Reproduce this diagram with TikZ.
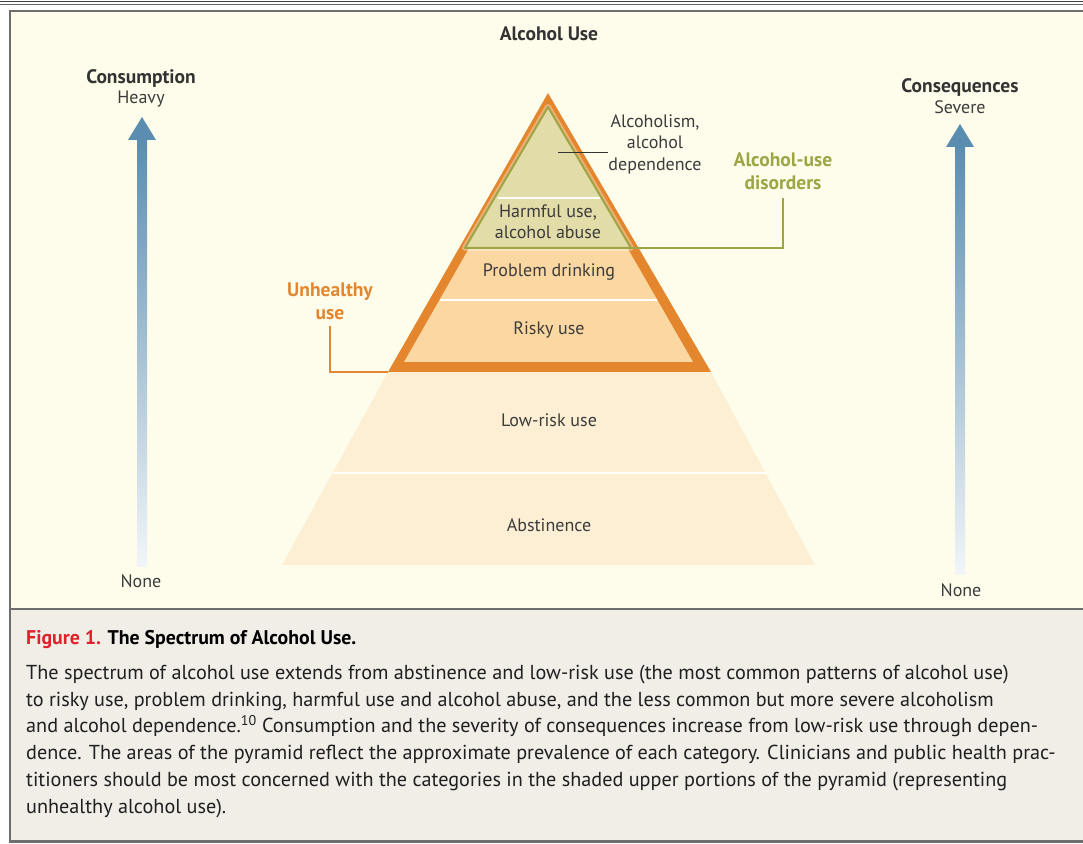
\documentclass[tikz,border=0pt]{standalone}
\usepackage{fontspec}
\setmainfont{PT Sans}
\usetikzlibrary{positioning}
\definecolor{panelbg}{HTML}{FEFDEC}
\definecolor{capbg}{HTML}{F1EDE7}
\definecolor{framegray}{HTML}{6E6E6E}
\definecolor{inkgray}{HTML}{3C3C3C}
\definecolor{orangeline}{HTML}{E4862E}
\definecolor{orangefill}{HTML}{FBD7A1}
\definecolor{palefill}{HTML}{FDEFD4}
\definecolor{khaki}{HTML}{E2DCA8}
\definecolor{olive}{HTML}{9DA544}
\definecolor{steel}{HTML}{5B8DB0}
\definecolor{figred}{HTML}{E0202A}
\tikzset{
  lbl/.style={text=inkgray, font=\fontsize{18}{21.5}\selectfont, align=center, inner sep=0pt},
  hdlbl/.style={lbl, font=\fontsize{19.5}{23}\selectfont\bfseries, text=black!80},
  tierline/.style={color=white, line width=2.2pt},
}

\begin{document}
\begin{tikzpicture}[scale=1.000000,x=1pt,y=1pt]
\useasboundingbox (0.000000,0.000000) rectangle (1083.000000,843.000000);
\filldraw[color=white] (0.000000,0.000000) rectangle (1083.000000,843.000000);
% Drawing frames
\draw[line width=1.5pt,color=black!75] (0.000000,841.500000) -- (1083.000000,841.500000);
\draw[line width=0.8pt,color=black!60] (0.000000,838.500000) -- (1083.000000,838.500000);
\filldraw[fill=panelbg,draw=framegray,line width=2.5pt] (10.000000,234.000000) rectangle (1095.000000,832.000000);
\filldraw[fill=capbg,draw=framegray,line width=2.5pt] (10.000000,1.500000) rectangle (1095.000000,234.000000);
% Done with frames; drawing arrows
% Arrow 1: consumption
\shade[top color=steel,bottom color=steel!8] (137.000000,276.000000) rectangle (147.000000,704.000000);
\fill[color=steel] (128.000000,703.000000) -- (156.000000,703.000000) -- (142.000000,726.000000) -- cycle;
% Arrow 2: consequences
\shade[top color=steel,bottom color=steel!8] (955.000000,268.000000) rectangle (965.000000,697.000000);
\fill[color=steel] (946.000000,696.000000) -- (974.000000,696.000000) -- (960.000000,719.000000) -- cycle;
% Done with arrows; drawing pyramid
% Base: low-risk use, abstinence
\fill[color=palefill] (388.000000,471.000000) -- (711.000000,471.000000) -- (815.000000,278.000000) -- (282.000000,278.000000) -- cycle;
\draw[tierline] (332.500000,370.000000) -- (765.500000,370.000000);
% Top: unhealthy use
\fill[color=orangeline] (548.000000,750.000000) -- (711.000000,471.000000) -- (388.000000,471.000000) -- cycle;
\fill[color=orangefill] (548.000000,733.000000) -- (693.000000,481.000000) -- (404.000000,481.000000) -- cycle;
\draw[tierline] (440.000000,543.000000) -- (657.000000,543.000000);
% Tip: alcohol-use disorders
\draw[color=white,opacity=0.35,line width=6pt,line join=round] (548.000000,736.000000) -- (631.000000,595.000000) -- (465.000000,595.000000) -- cycle;
\filldraw[fill=khaki,draw=olive,line width=2pt,line join=round] (548.000000,736.000000) -- (631.000000,595.000000) -- (465.000000,595.000000) -- cycle;
\draw[tierline] (497.500000,645.000000) -- (599.500000,645.000000);
\coordinate (audR) at (631.000000,595.000000);
\coordinate (unhL) at (388.000000,471.000000);
\coordinate (ldr) at (558.000000,691.000000);
% Done with pyramid; drawing labels
\node[hdlbl] (title) at (549.000000,809.000000) {Alcohol Use};
\node[hdlbl] (cons) at (141.000000,765.000000) {Consumption};
\node[lbl] (heavy) at (141.000000,744.000000) {Heavy};
\node[lbl] (noneL) at (141.000000,262.000000) {None};
\node[hdlbl] (conseq) at (960.000000,756.000000) {Consequences};
\node[lbl] (severe) at (960.000000,736.000000) {Severe};
\node[lbl] (noneR) at (961.000000,253.000000) {None};
\node[lbl] (alcdep) at (655.000000,699.000000) {Alcoholism,\\alcohol\\dependence};
\node[lbl] (harm) at (548.000000,621.000000) {Harmful use,\\alcohol abuse};
\node[lbl] (probl) at (549.000000,571.000000) {Problem drinking};
\node[lbl] (risky) at (549.000000,513.000000) {Risky use};
\node[lbl] (lowrisk) at (549.000000,423.000000) {Low-risk use};
\node[lbl] (abst) at (549.000000,318.000000) {Abstinence};
\node[hdlbl,text=olive] (aud) at (783.000000,672.000000) {Alcohol-use\\disorders};
\node[hdlbl,text=orangeline] (unh) at (330.000000,542.000000) {Unhealthy\\use};
% Done with labels; drawing leaders
\draw[color=black!80,line width=0.7pt] (ldr) -- (ldr -| alcdep.west);
\draw[color=olive,line width=2pt] (aud.south) ++(0,-8) |- (audR);
\draw[color=orangeline,line width=2pt] (unh.south) ++(0,-6) |- (unhL);
% Done with leaders; drawing caption
\node[anchor=west,inner sep=0pt,font=\fontsize{19.8}{23}\selectfont\bfseries] (captitle) at (26.000000,203.000000) {\textcolor{figred}{Figure 1.} The Spectrum of Alcohol Use.};
\node[anchor=north west,inner sep=0pt,align=left,text=black!88,font=\fontsize{20.2}{26.7}\selectfont] (capbody) at (26.000000,178.000000) {The spectrum of alcohol use extends from abstinence and low-risk use (the most common patterns of alcohol use)\\to risky use, problem drinking, harmful use and alcohol abuse, and the less common but more severe alcoholism\\and alcohol dependence.\textsuperscript{10} Consumption and the severity of consequences increase from low-risk use through depen-\\dence. The areas of the pyramid reflect the approximate prevalence of each category. Clinicians and public health prac-\\titioners should be most concerned with the categories in the shaded upper portions of the pyramid (representing\\unhealthy alcohol use).};
% Done with caption
\end{tikzpicture}
\end{document}
